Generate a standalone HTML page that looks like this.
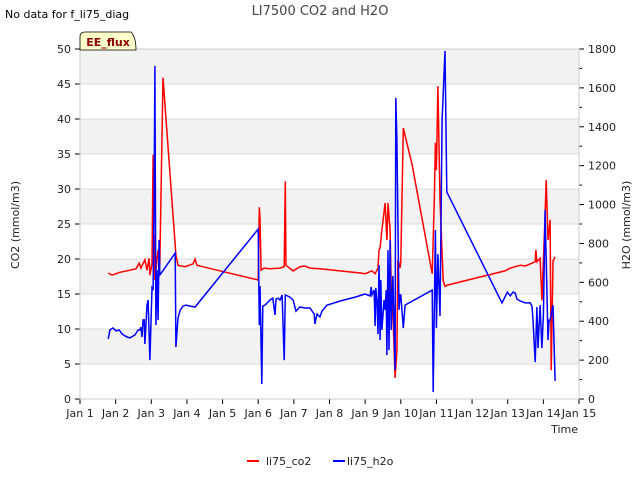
<!DOCTYPE html>
<html><head><meta charset="utf-8"><style>
body{margin:0;background:#fff;font-family:"Liberation Sans",sans-serif}
svg text{font-family:"DejaVu Sans","Liberation Sans",sans-serif}
</style></head><body>
<svg id="c" width="640" height="480" xmlns="http://www.w3.org/2000/svg">
<text x="320" y="15" text-anchor="middle" font-size="13" fill="#444">LI7500 CO2 and H2O</text>
<text x="5" y="18" font-size="11" fill="#000">No data for f_li75_diag</text>
<g id="bands"></g><g id="axes"></g><g id="series"></g>
<g><path d="M80,50 L80,37 Q80,32 85,32 L131,32 Q136,37 136,50 Z" fill="#ffffcc" stroke="#000" stroke-width="0.8"/>
<text x="108" y="46" text-anchor="middle" font-size="11" font-weight="bold" fill="#8b0000">EE_flux</text></g>
<text x="19" y="225" font-size="11" fill="#222" transform="rotate(-90 19 225)" text-anchor="middle">CO2 (mmol/m3)</text>
<text x="630" y="225" font-size="11" fill="#222" transform="rotate(-90 630 225)" text-anchor="middle">H2O (mmol/m3)</text>
<text x="578" y="433" font-size="11" fill="#222" text-anchor="end">Time</text>
<g><line x1="247" y1="461" x2="259" y2="461" stroke="#f00" stroke-width="2"/><text x="266" y="465" font-size="11" fill="#222">li75_co2</text></g>
<g><line x1="333" y1="461" x2="345" y2="461" stroke="#00f" stroke-width="2"/><text x="347" y="465" font-size="11" fill="#222">li75_h2o</text></g>
</svg>
<script>
const xTickLabels=["Jan 1","Jan 2","Jan 3","Jan 4","Jan 5","Jan 6","Jan 7","Jan 8","Jan 9","Jan 10","Jan 11","Jan 12","Jan 13","Jan 14","Jan 15"];
const leftTicks=[0,5,10,15,20,25,30,35,40,45,50];
const rightTicks=[0,200,400,600,800,1000,1200,1400,1600,1800];
const co2Days=[0.79,0.90,1.12,1.40,1.57,1.66,1.71,1.82,1.88,1.94,1.96,2.02,2.05,2.08,2.10,2.13,2.19,2.24,2.33,2.69,2.75,2.95,3.17,3.23,3.28,5.0,5.03,5.05,5.08,5.16,5.33,5.61,5.73,5.76,5.78,5.98,6.17,6.31,6.45,6.73,7.86,8.0,8.19,8.28,8.36,8.39,8.42,8.47,8.56,8.61,8.64,8.70,8.73,8.78,8.84,8.89,8.92,8.98,9.0,9.07,9.32,9.88,9.94,9.97,10.0,10.04,10.10,10.19,10.24,10.33,11.92,12.07,12.21,12.35,12.49,12.63,12.77,12.79,12.82,12.91,12.96,13.05,13.08,13.13,13.19,13.22,13.27,13.33];
const co2Values=[18.0,17.7,18.1,18.4,18.6,19.4,18.7,19.9,18.4,20.1,17.7,19.3,34.9,17.0,23.4,18.4,21.3,19.1,45.9,20.6,19.1,18.9,19.3,20.0,19.1,17.0,27.4,25.9,18.4,18.7,18.6,18.7,18.9,31.1,19.1,18.3,18.9,19.0,18.7,18.6,18.0,17.9,18.3,17.9,18.7,21.3,21.6,24.1,28.0,22.7,28.0,24.1,16.3,12.4,3.0,7.0,19.9,18.7,19.7,38.7,33.4,17.9,28.4,36.6,32.7,44.7,28.4,16.9,16.1,16.3,18.3,18.7,18.9,19.1,19.0,19.3,19.6,21.3,19.6,20.1,14.1,26.3,31.3,22.7,25.6,4.1,19.7,20.3];
const h2oDays=[0.79,0.84,0.93,1.01,1.10,1.18,1.32,1.40,1.54,1.63,1.68,1.71,1.74,1.77,1.80,1.82,1.88,1.91,1.96,2.02,2.05,2.08,2.10,2.13,2.16,2.19,2.22,2.24,2.30,2.67,2.69,2.75,2.81,2.89,2.97,3.09,3.23,5.0,5.03,5.05,5.10,5.13,5.19,5.33,5.41,5.47,5.50,5.56,5.61,5.67,5.73,5.76,5.89,5.98,6.06,6.17,6.31,6.45,6.57,6.59,6.65,6.73,6.79,6.93,7.30,7.72,7.91,8.0,8.14,8.17,8.19,8.25,8.28,8.30,8.33,8.36,8.39,8.42,8.44,8.47,8.50,8.53,8.56,8.59,8.61,8.64,8.67,8.70,8.73,8.78,8.84,8.86,8.89,8.95,8.98,9.0,9.07,9.12,9.88,9.91,9.97,10.0,10.04,10.10,10.16,10.24,10.29,11.84,11.99,12.07,12.15,12.21,12.26,12.35,12.49,12.63,12.68,12.71,12.77,12.82,12.85,12.91,12.96,13.0,13.05,13.08,13.13,13.16,13.19,13.27,13.33];
const h2oValues=[309,355,365,350,355,334,319,314,329,355,355,370,319,407,407,283,483,509,200,571,560,1023,1713,380,663,406,818,638,653,751,267,416,457,478,483,478,473,874,380,581,77,478,483,509,519,432,514,519,509,535,200,535,524,509,452,473,468,468,437,386,437,422,452,483,504,524,535,540,530,576,535,560,375,571,509,334,689,303,612,355,432,509,458,560,226,766,252,818,355,633,149,1548,1332,458,535,535,365,483,560,36,869,365,745,427,1434,1790,1065,494,550,530,550,545,514,504,494,494,478,406,190,473,262,483,262,432,972,715,303,406,406,483,93];
const NS="http://www.w3.org/2000/svg";
const L=80,R=579,T=49,B=399;
const xs=d=>L+d*(R-L)/14;
const yL=v=>B-v*(B-T)/50;
const yR=v=>B-v*(B-T)/1800;
function mk(tag,attrs,parent,txt){const e=document.createElementNS(NS,tag);for(const k in attrs)e.setAttribute(k,attrs[k]);if(txt!==undefined)e.textContent=txt;parent.appendChild(e);return e;}
const bands=document.getElementById('bands'),axes=document.getElementById('axes'),ser=document.getElementById('series');
for(let i=0;i<10;i++){if(i%2===0){const r=mk('rect',{x:L,y:yL(50-5*i),width:R-L,height:yL(45-5*i)-yL(50-5*i),fill:'#f2f2f2'},bands);

}}
leftTicks.forEach(v=>{const y=yL(v);
const g=mk('line',{x1:L,x2:R,y1:y,y2:y,stroke:'#dcdcdc','stroke-width':1},bands);


mk('line',{x1:L-5,x2:L,y1:y,y2:y,stroke:'#000'},axes);
const t=mk('text',{x:L-9,y:y+4,'text-anchor':'end','font-size':11,fill:'#222'},axes,String(v));

});
for(let v=0;v<=1800;v+=100){const y=yR(v);mk('line',{x1:R,x2:R+(v%200===0?5:3),y1:y,y2:y,stroke:'#000'},axes);}
rightTicks.forEach(v=>{const y=yR(v);
const t=mk('text',{x:R+9,y:y+4,'font-size':11,fill:'#222'},axes,String(v));

});
xTickLabels.forEach((s,i)=>{const x=xs(i);mk('line',{x1:x,x2:x,y1:B,y2:B+5,stroke:'#000'},axes);
const t=mk('text',{x:x,y:B+18,'text-anchor':'middle','font-size':11,fill:'#222'},axes,s);

});
mk('rect',{x:L,y:T,width:R-L,height:B-T,fill:'none',stroke:'#ccc'},axes);
const co2=mk('polyline',{points:co2Days.map((d,i)=>xs(d).toFixed(1)+','+yL(co2Values[i]).toFixed(1)).join(' '),fill:'none',stroke:'#f00','stroke-width':1.5},ser);


const h2o=mk('polyline',{points:h2oDays.map((d,i)=>xs(d).toFixed(1)+','+yR(h2oValues[i]).toFixed(1)).join(' '),fill:'none',stroke:'#00f','stroke-width':1.5},ser);


</script>
</body></html>
